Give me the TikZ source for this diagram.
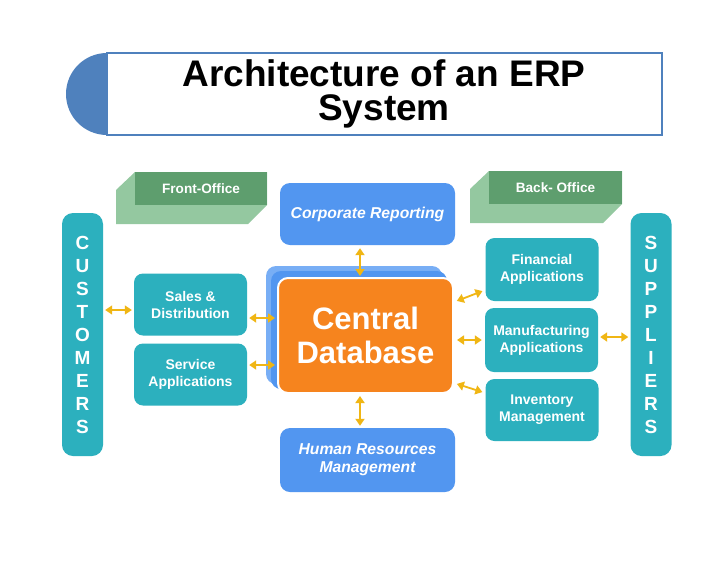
\documentclass[tikz,border=0pt]{standalone}
\usepackage{fontspec}
\setmainfont{Liberation Sans}
\usetikzlibrary{arrows.meta,calc}

\definecolor{titleblue}{RGB}{79,129,189}
\definecolor{erpteal}{RGB}{44,176,190}
\definecolor{erpblue}{RGB}{82,150,240}
\definecolor{backblue}{RGB}{120,174,245}
\definecolor{erporange}{RGB}{246,132,30}
\definecolor{erpgold}{RGB}{240,182,20}
\definecolor{tabdark}{RGB}{94,158,110}
\definecolor{tablight}{RGB}{148,200,160}

\begin{document}
\begin{tikzpicture}[x=1pt,y=-1pt,
  app/.style={fill=erpteal, rounded corners=9pt, minimum width=113pt, minimum height=62pt,
    inner sep=0pt, text=white, align=center, font=\fontsize{14}{17}\selectfont\bfseries},
  hub/.style={fill=erpblue, rounded corners=10pt, minimum width=175pt, minimum height=62pt,
    inner sep=0pt, text=white, align=center, font=\fontsize{15.7}{18}\selectfont\bfseries\itshape},
  party/.style={fill=erpteal, rounded corners=11pt, minimum width=41pt, minimum height=243pt,
    inner sep=0pt, text=white, align=center, font=\fontsize{19}{23}\selectfont\bfseries},
  tab/.style={fill=tabdark, minimum width=132pt, minimum height=33pt, inner sep=0pt,
    text=white, font=\fontsize{13.6}{16}\selectfont\bfseries},
  link/.style={{Triangle[length=7pt,width=9pt]}-{Triangle[length=7pt,width=9pt]},
    draw=erpgold, line width=1.8pt, shorten <=2pt, shorten >=2pt}]
  \useasboundingbox[fill=white] (0,0) rectangle (728,563);

  % title
  \fill[titleblue] (107,53) arc[start angle=-90, end angle=-270, radius=41] -- cycle;
  \draw[titleblue, line width=1.3pt, fill=white] (107,53) rectangle (662,135);
  \node[align=center, inner sep=0pt, font=\fontsize{37}{34}\selectfont\bfseries] (title) at (384,93.5)
    {Architecture of an ERP\\System};

  % office tabs
  \fill[tablight] (116,190) -- (135,172) -- (267,172) -- (267,205) -- (248,224) -- (116,224) -- cycle;
  \node[tab] (front) at (201,188.5) {Front-Office};
  \fill[tablight] (470,189) -- (489,171) -- (622,171) -- (622,204) -- (603,223) -- (470,223) -- cycle;
  \node[tab, minimum width=133pt] (back) at (555.5,187.5) {Back- Office};

  % outer parties
  \node[party] (cust) at (82.5,334.5) {C\\U\\S\\T\\O\\M\\E\\R\\S};
  \node[party] (sup) at (651,334.5) {S\\U\\P\\P\\L\\I\\E\\R\\S};

  % central database
  \fill[backblue, rounded corners=10pt] (266,266) rectangle (442,384);
  \fill[erpblue, rounded corners=10pt] (271,271) rectangle (447,389);
  \node[fill=erporange, draw=white, line width=2pt, rounded corners=10pt,
    minimum width=175pt, minimum height=115pt, inner sep=0pt, text=white, align=center,
    font=\fontsize{31}{34}\selectfont\bfseries] (db) at (365.5,335.5) {Central\\Database};

  \node[hub] (corp) at (367.5,214) {Corporate Reporting};
  \node[hub, minimum height=64pt] (hr) at (367.5,460) {Human Resources\\Management};

  \node[app] (sales) at (190.5,304.5) {Sales \&\\Distribution};
  \node[app] (service) at (190.5,374.5) {Service\\Applications};
  \node[app, minimum height=63pt] (fin) at (542,269.5) {Financial\\Applications};
  \node[app, minimum height=64pt] (manu) at (541.5,340) {Manufacturing\\Applications};
  \node[app] (inv) at (542,410) {Inventory\\Management};

  % links
  \draw[link, line width=1.4pt] ($(cust.east |- sales.west)+(0,5.5)$) -- ($(sales.west)+(0,5.5)$);
  \draw[link] ($(sales.east)+(0,13.5)$) -- ($(db.west |- sales.east)+(0,13.5)$);
  \draw[link] ($(service.east)+(0,-9.5)$) -- ($(db.west |- service.east)+(0,-9.5)$);
  \draw[link, shorten >=3pt, shorten <=1pt] ($(db.north)+(-5.5,0)$) -- ($(db.north |- corp.south)+(-5.5,0)$);
  \draw[link] ($(db.south)+(-5.5,0)$) -- ($(db.south |- hr.north)+(-5.5,0)$);
  \draw[link, shorten <=3pt, shorten >=3pt] ($(db.east)+(0,-33.5)$) -- ($(fin.west)+(0,20.5)$);
  \draw[link, shorten <=3pt, shorten >=3pt] (db.east |- manu.west) -- (manu.west);
  \draw[link, shorten <=3pt, shorten >=3pt] ($(db.east)+(0,47.5)$) -- ($(inv.west)+(0,-17)$);
  \draw[link] ($(manu.east)+(0,-3)$) -- ($(sup.west |- manu.east)+(0,-3)$);
\end{tikzpicture}
\end{document}
